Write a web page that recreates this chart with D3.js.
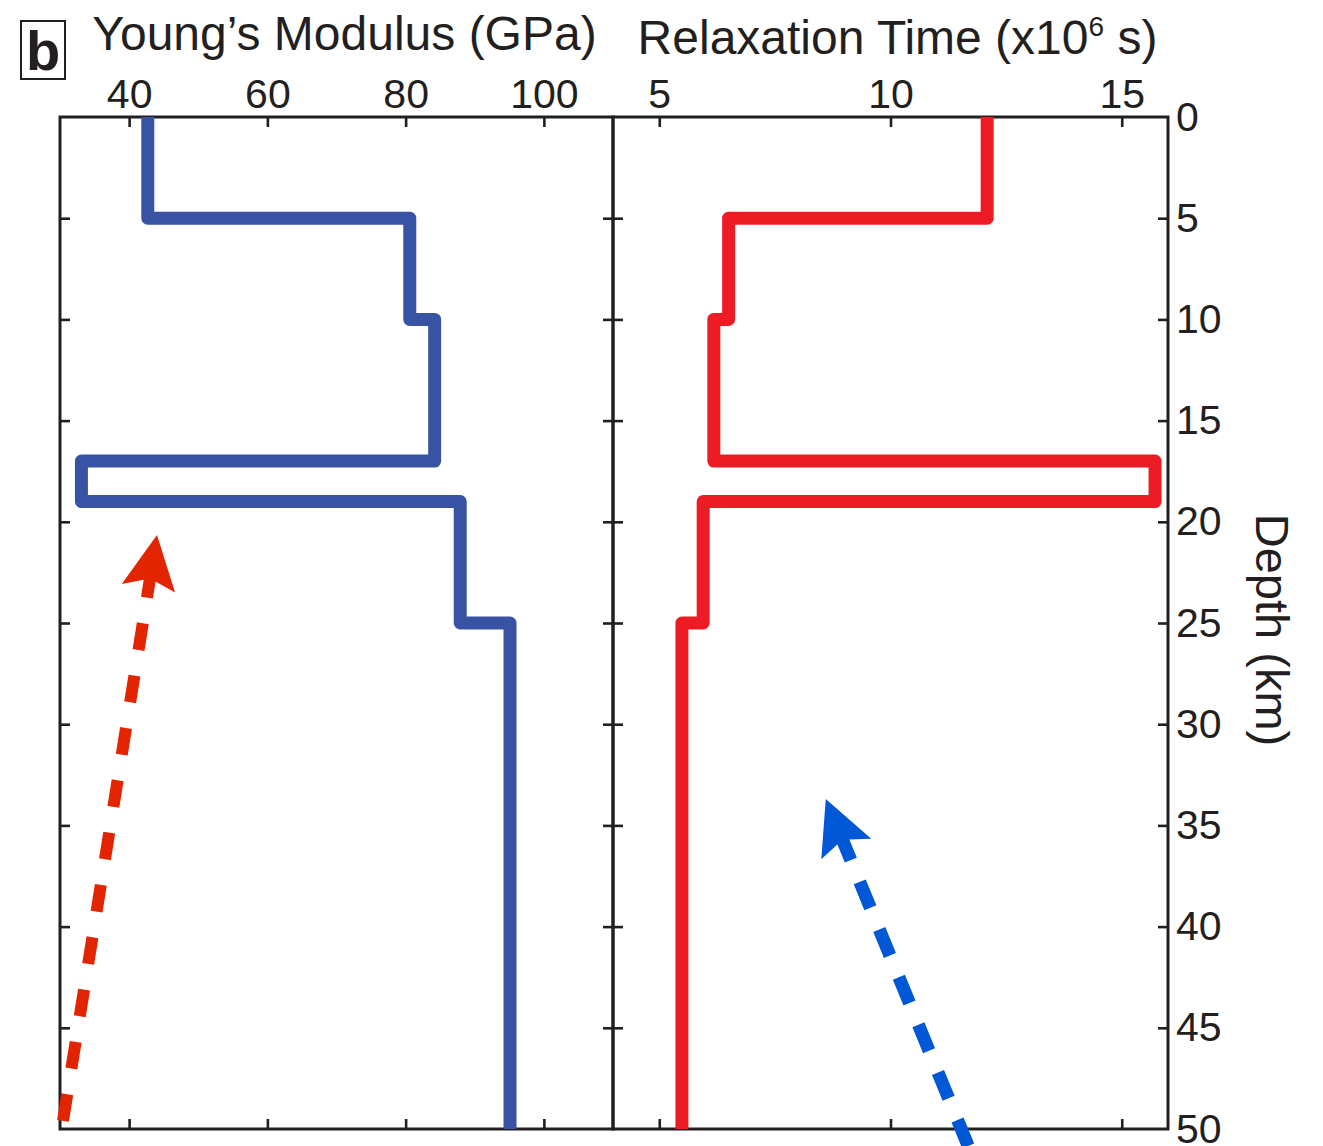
<!DOCTYPE html>
<html><head><meta charset="utf-8">
<script src="https://cdn.jsdelivr.net/npm/d3@7"></script>
<style>
body{margin:0;background:#fff}
svg text{font-family:"Liberation Sans",Arial,Helvetica,sans-serif;fill:#231f20}
</style>
</head><body>
<svg id="c" width="1323" height="1146"></svg>
<script>
// ---- data ----
const depthBreaks = [0, 5, 10, 17, 19, 25, 50];
const youngsModulus = [42.7, 80.6, 84.2, 33.1, 87.9, 95.1];
const relaxationTime = [12.09, 6.5, 6.18, 15.72, 5.95, 5.49];
const youngsTicks = [40, 60, 80, 100];
const relaxTicks = [5, 10, 15];
const depthTicks = [0, 5, 10, 15, 20, 25, 30, 35, 40, 45, 50];
const redArrowPts = [[30.43, 49.6], [44.03, 20.65]];   // tail, tip (GPa, km)
const blueArrowPts = [[11.68, 50.84], [8.6, 33.7]];    // tail, tip (x10^6 s, km)

// ---- layout ----
const svg = d3.select("#c");
const yTop = 117, yBot = 1129, xLeft = 60, xMid = 613, xRight = 1168;
const y = d3.scaleLinear().domain([0, 50]).range([yTop, yBot]);
const xL = d3.scaleLinear().domain([30, 110]).range([xLeft, xMid]);
const xR = d3.scaleLinear().domain([4, 16]).range([xMid, xRight]);
const axisColor = "#231f20";

function styleAxis(g) {
  g.select(".domain").remove();
  g.selectAll(".tick line").attr("stroke", axisColor).attr("stroke-width", 2.6);
  g.selectAll(".tick text").attr("font-size", 41).attr("fill", axisColor)
    .style("font-family", '"Liberation Sans",Arial,sans-serif');
}

// top axes
svg.append("g").attr("transform", `translate(0,${yTop})`)
  .call(d3.axisTop(xL).tickValues(youngsTicks).tickSize(-10).tickPadding(9))
  .call(styleAxis);
svg.append("g").attr("transform", `translate(0,${yTop})`)
  .call(d3.axisTop(xR).tickValues(relaxTicks).tickSize(-10).tickPadding(9))
  .call(styleAxis);
// bottom axes
svg.append("g").attr("transform", `translate(0,${yBot})`)
  .call(d3.axisBottom(xL).tickValues(youngsTicks).tickSize(-10).tickFormat(""))
  .call(styleAxis);
svg.append("g").attr("transform", `translate(0,${yBot})`)
  .call(d3.axisBottom(xR).tickValues(relaxTicks).tickSize(-10).tickFormat(""))
  .call(styleAxis);
// vertical axes
svg.append("g").attr("transform", `translate(${xLeft},0)`)
  .call(d3.axisLeft(y).tickValues(depthTicks.slice(1, -1)).tickSize(-10).tickFormat(""))
  .call(styleAxis);
svg.append("g").attr("transform", `translate(${xMid},0)`)
  .call(d3.axisRight(y).tickValues(depthTicks.slice(1, -1)).tickSize(10).tickFormat(""))
  .call(styleAxis);
svg.append("g").attr("transform", `translate(${xMid},0)`)
  .call(d3.axisLeft(y).tickValues(depthTicks.slice(1, -1)).tickSize(10).tickFormat(""))
  .call(styleAxis);
const ra = svg.append("g").attr("transform", `translate(${xRight},0)`)
  .call(d3.axisRight(y).tickValues(depthTicks).tickSize(-10).tickPadding(8))
  .call(styleAxis);
ra.selectAll(".tick line").filter(d => d === 0 || d === 50).remove();

// frames
[[xLeft, xMid], [xMid, xRight]].forEach(([a, b]) => {
  svg.append("rect").attr("x", a).attr("y", yTop).attr("width", b - a).attr("height", yBot - yTop)
    .attr("fill", "none").attr("stroke", axisColor).attr("stroke-width", 3);
});

// profiles
function stepPoints(vals) {
  return vals.flatMap((v, i) => [[v, depthBreaks[i]], [v, depthBreaks[i + 1]]]);
}
svg.append("path").datum(stepPoints(youngsModulus))
  .attr("d", d3.line().x(d => xL(d[0])).y(d => y(d[1])))
  .attr("fill", "none").attr("stroke", "#3953a4").attr("stroke-width", 13)
  .attr("stroke-linejoin", "round").attr("stroke-linecap", "butt");
svg.append("path").datum(stepPoints(relaxationTime))
  .attr("d", d3.line().x(d => xR(d[0])).y(d => y(d[1])))
  .attr("fill", "none").attr("stroke", "#ed1c24").attr("stroke-width", 13)
  .attr("stroke-linejoin", "round").attr("stroke-linecap", "butt");

// arrows
function arrow(tail, tip, color, width, dash, gap, fromTip) {
  const dx = tip[0] - tail[0], dy = tip[1] - tail[1];
  const L = Math.hypot(dx, dy), u = [dx / L, dy / L], n = [-u[1], u[0]];
  const p = (t, s) => [tip[0] - u[0] * t + n[0] * s, tip[1] - u[1] * t + n[1] * s];
  const shaftEnd = p(38, 0);
  const pts = fromTip ? [shaftEnd, tail] : [tail, shaftEnd];
  svg.append("path").datum(pts).attr("d", d3.line())
    .attr("fill", "none").attr("stroke", color).attr("stroke-width", width)
    .attr("stroke-dasharray", `${dash} ${gap}`);
  svg.append("path").datum([tip, p(54, 27), p(44, 0), p(54, -27)])
    .attr("d", d3.line().curve(d3.curveLinearClosed)).attr("fill", color);
}
arrow([xL(redArrowPts[0][0]), y(redArrowPts[0][1])], [xL(redArrowPts[1][0]), y(redArrowPts[1][1])],
  "#e32400", 12, 27, 26, false);
arrow([xR(blueArrowPts[0][0]), y(blueArrowPts[0][1])], [xR(blueArrowPts[1][0]), y(blueArrowPts[1][1])],
  "#0058d6", 13, 28, 23.5, true);

// titles
svg.append("text").attr("x", 344.5).attr("y", 50).attr("text-anchor", "middle")
  .attr("font-size", 48).text("Young’s Modulus (GPa)");
const t2 = svg.append("text").attr("x", 897.5).attr("y", 54).attr("text-anchor", "middle")
  .attr("font-size", 48);
t2.append("tspan").text("Relaxation Time (x10");
t2.append("tspan").attr("font-size", 28).attr("dy", -18).text("6");
t2.append("tspan").attr("dy", 18).text(" s)");

svg.append("text").attr("transform", "translate(1256,630) rotate(90)")
  .attr("text-anchor", "middle").attr("font-size", 47).text("Depth (km)");

// panel label
svg.append("rect").attr("x", 21).attr("y", 21).attr("width", 44).attr("height", 58)
  .attr("fill", "none").attr("stroke", axisColor).attr("stroke-width", 2);
svg.append("text").attr("x", 43).attr("y", 70).attr("text-anchor", "middle")
  .attr("font-size", 56).attr("font-weight", "bold").text("b");
</script>
</body></html>
